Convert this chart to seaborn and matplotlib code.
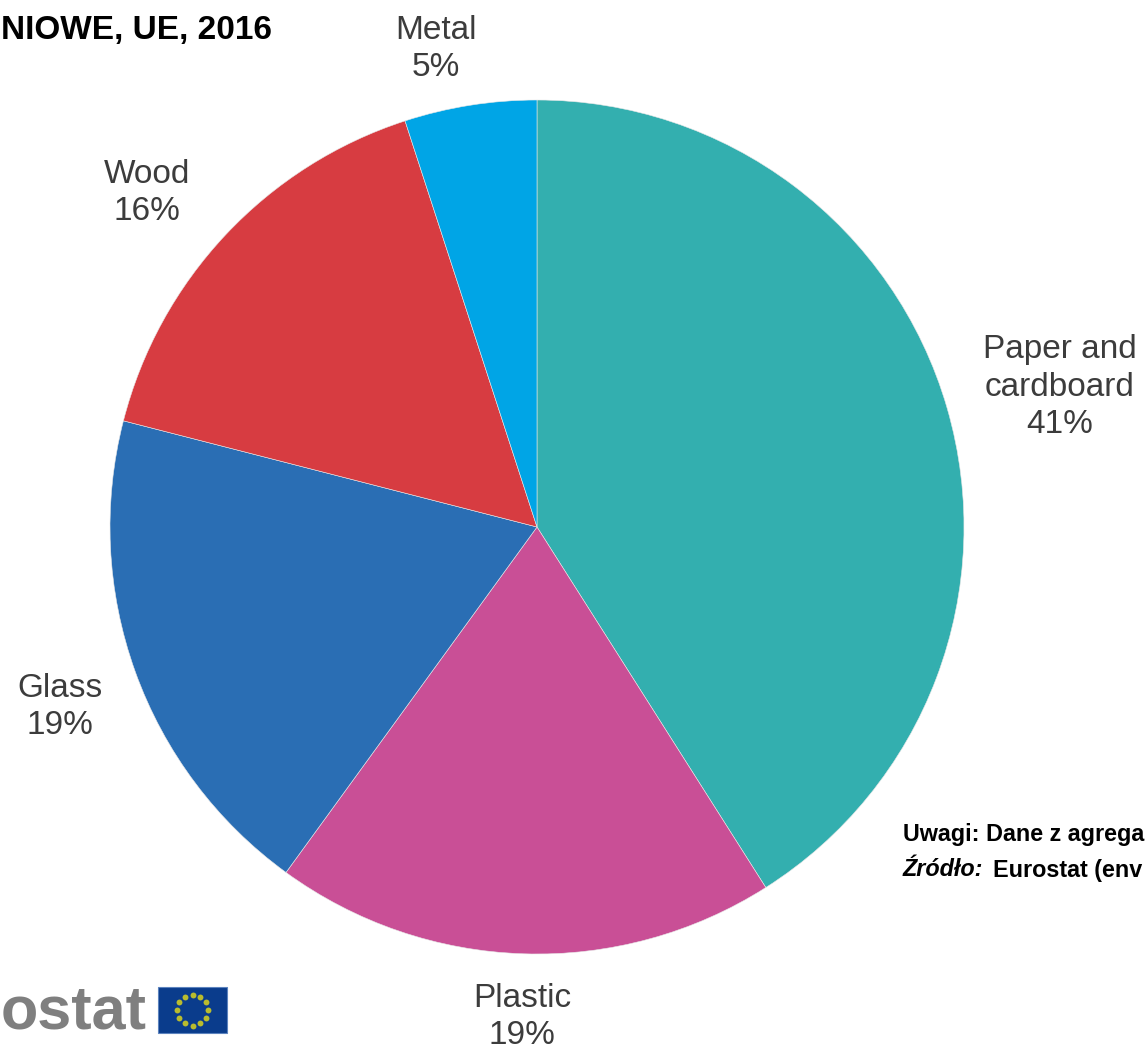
import numpy as np
import matplotlib
matplotlib.use("Agg")
import matplotlib.pyplot as plt
from matplotlib.patches import Rectangle
import seaborn as sns

# Packaging waste by material, EU, 2016 (% of total)
materials = ["Paper and\ncardboard", "Plastic", "Glass", "Wood", "Metal"]
shares = [41, 19, 19, 16, 5]
slice_colors = ["#33AFAF", "#C94F96", "#2A6EB4", "#D73C41", "#00A5E6"]
label_anchor_x = [1060, 522, 60, 147, 436]
label_anchor_y = [387, 1017, 707, 193, 49]

title_text = "NIOWE, UE, 2016"
note_text = "Uwagi: Dane z agrega"
source_prefix = "Źródło:"
source_text = "Eurostat (env"

WIDTH, HEIGHT = 1145, 1053
CX, CY, R = 537, 527, 427

sns.set_theme(style="white")
plt.rcParams["font.family"] = ["Liberation Sans", "DejaVu Sans"]
palette = sns.color_palette(slice_colors)

fig = plt.figure(figsize=(WIDTH / 100, HEIGHT / 100), dpi=100, facecolor="white")

ax_pie = fig.add_axes([(CX - R) / WIDTH, 1 - (CY + R) / HEIGHT, 2 * R / WIDTH, 2 * R / HEIGHT])
ax_pie.pie(shares, colors=palette, startangle=90, counterclock=False, radius=1,
           wedgeprops=dict(edgecolor="#E8E8E8", linewidth=0.4))
ax_pie.set_xlim(-1, 1)
ax_pie.set_ylim(-1, 1)

# Overlay in pixel units for annotations and the logo
ax = fig.add_axes([0, 0, 1, 1], facecolor="none")
ax.set_xlim(0, WIDTH)
ax.set_ylim(HEIGHT, 0)
ax.axis("off")

for name, share, x, y in zip(materials, shares, label_anchor_x, label_anchor_y):
    ax.text(x, y, f"{name}\n{share}%", ha="center", va="center", fontsize=24,
            color="#3C3C3C", linespacing=1.28)

ax.text(272, 30, title_text, ha="right", va="center", fontsize=24, fontweight="bold",
        color="black")
ax.text(903, 834, note_text, ha="left", va="center", fontsize=16.8, fontweight="bold",
        color="black")
ax.text(903, 870, source_prefix, ha="left", va="center", fontsize=16.8, fontweight="bold",
        style="italic", color="black")
ax.text(993, 870, source_text, ha="left", va="center", fontsize=16.8, fontweight="bold",
        color="black")

# Eurostat wordmark and EU flag
ax.text(147, 1013, "ostat", ha="right", va="center", fontsize=44, fontweight="bold", color="#7F7F7F")
ax.add_patch(Rectangle((158, 987), 69, 46, facecolor="#0A3C8C", edgecolor="#5C83BE", linewidth=0.8))
star_angles = np.deg2rad(np.arange(0, 360, 30))
ax.scatter(192.5 + 15.5 * np.cos(star_angles), 1010 + 15.5 * np.sin(star_angles),
           s=18, color="#B9BC2E", linewidths=0)

fig.savefig("out.png", dpi=100, facecolor="white")
